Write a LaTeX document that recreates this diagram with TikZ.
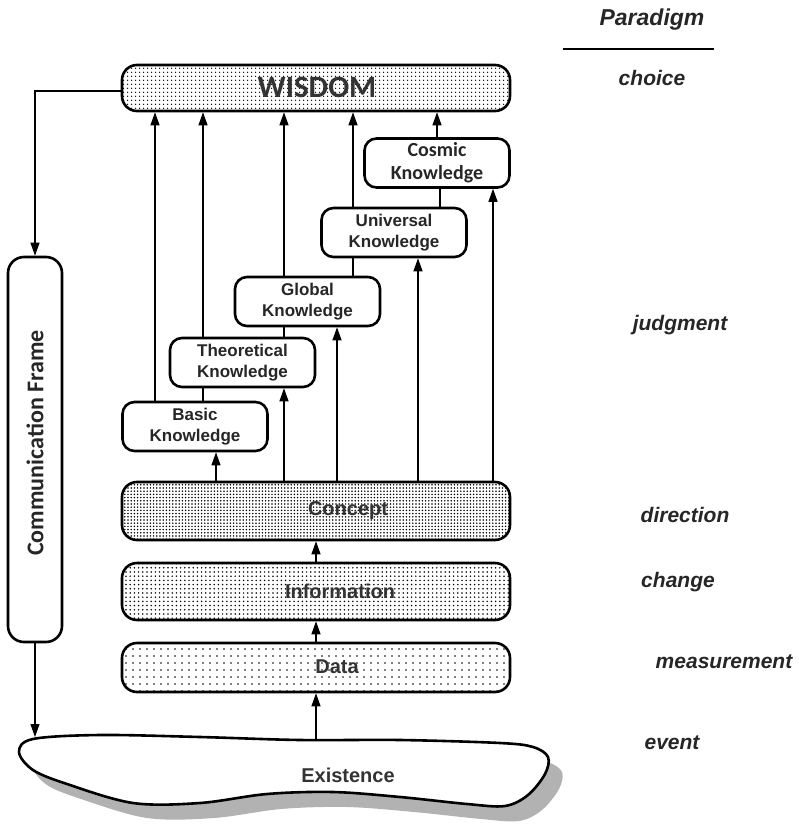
\documentclass[tikz,border=0pt]{standalone}
\usepackage{fontspec}
\setmainfont{Liberation Sans}
\newfontfamily\calib{Carlito}
\usetikzlibrary{arrows.meta,patterns.meta,calc}
\begin{document}
\begin{tikzpicture}[x=1pt,y=-1pt,
 box/.style={draw, line width=2.6pt, rounded corners=12pt, inner sep=0pt},
 kbox/.style={box, fill=white, minimum width=145pt, minimum height=49pt, align=center, font=\bfseries\fontsize{17}{21}\selectfont, text=black!85},
 wbox/.style={box, minimum width=388pt, rounded corners=15pt},
 conn/.style={line width=1.2pt, -{Triangle[length=13pt,width=9pt]}},
 plainline/.style={line width=1.2pt},
 para/.style={font=\bfseries\itshape\fontsize{21}{25}\selectfont, text=black!85},
 lbl/.style={font=\bfseries\fontsize{20}{24}\selectfont, text=black!80}
]
\useasboundingbox (0,0) rectangle (799,824);

% Existence blob with shadow
\path[fill=black!30, shift={(14,15)}] plot[smooth cycle, tension=0.55] coordinates {
 (19,752) (33,739) (100,735) (200,737) (300,740) (400,740) (500,743) (533,747)
 (548,757) (545,774) (528,795)
 (505,806) (467,804) (400,797) (333,792) (267,794) (200,803) (133,803) (67,784) (33,770)};
\draw[line width=2.6pt, fill=white] plot[smooth cycle, tension=0.55] coordinates {
 (19,752) (33,739) (100,735) (200,737) (300,740) (400,740) (500,743) (533,747)
 (548,757) (545,774) (528,795)
 (505,806) (467,804) (400,797) (333,792) (267,794) (200,803) (133,803) (67,784) (33,770)};
\node[lbl] (exist) at (348,775) {Existence};
\coordinate (extop) at (316,740);
\coordinate (exleft) at (35,737);

% wide boxes
\node[wbox, minimum height=46pt, pattern={Dots[distance=4pt,radius=0.9pt]}] (wisdom) at (316,88) {};
\node[font=\calib\bfseries\fontsize{31}{34}\selectfont, text=black!80] (wisdomtxt) at (317,87) {WISDOM};
\node[wbox, minimum height=58pt, pattern={Dots[distance=3.2pt,radius=0.85pt]}] (concept) at (316,511) {};
\node[lbl] (concepttxt) at (348,511) {Concept};
\node[wbox, minimum height=57pt, pattern={Dots[distance=4.2pt,radius=0.85pt]}] (info) at (316,591.5) {};
\node[lbl] (infotxt) at (340,591) {Information};
\node[wbox, minimum height=49pt, pattern={Dots[distance=7pt,radius=0.9pt]}] (data) at (316,667.5) {};
\node[lbl] (datatxt) at (337,667) {Data};

% communication frame
\node[box, rounded corners=16pt, minimum width=54pt, minimum height=385pt] (comm) at (35,449.5) {};
\node[rotate=90, font=\calib\bfseries\fontsize{24}{28}\selectfont, text=black!85] (commtxt) at (35,443) {Communication Frame};

% knowledge boxes
\node[kbox] (basic) at (195,426.5) {Basic\\Knowledge};
\node[kbox] (theo) at (242.5,362.5) {Theoretical\\Knowledge};
\node[kbox] (global) at (307.5,301.5) {Global\\Knowledge};
\node[kbox] (univ) at (394,232.5) {Universal\\Knowledge};
\node[kbox, font=\calib\bfseries\fontsize{20}{23}\selectfont] (cosmic) at (437,163) {Cosmic\\Knowledge};

% connectors
\draw[conn] (basic.north -| 155,0) -- (wisdom.south -| 155,0);
\draw[plainline] (basic.north -| 203,0) -- (theo.south -| 203,0);
\draw[conn] (theo.north -| 203,0) -- (wisdom.south -| 203,0);
\draw[plainline] (theo.north -| 284,0) -- (global.south -| 284,0);
\draw[conn] (global.north -| 284,0) -- (wisdom.south -| 284,0);
\draw[plainline] (global.north -| 353,0) -- (univ.south -| 353,0);
\draw[conn] (univ.north -| 353,0) -- (wisdom.south -| 353,0);
\draw[plainline] (univ.north -| 440,0) -- (cosmic.south -| 440,0);
\draw[conn] (cosmic.north -| 437,0) -- (wisdom.south -| 437,0);

\draw[conn] (concept.north -| 216,0) -- (basic.south -| 216,0);
\draw[conn] (concept.north -| 284,0) -- (theo.south -| 284,0);
\draw[conn] (concept.north -| 337,0) -- (global.south -| 337,0);
\draw[conn] (concept.north -| 418,0) -- (univ.south -| 418,0);
\draw[conn] (concept.north -| 493,0) -- (cosmic.south -| 493,0);

\draw[conn] (info.north) -- (concept.south);
\draw[conn] (data.north) -- (info.south);
\draw[conn] (extop) -- (data.south);

\draw[conn] (wisdom.west |- 0,91) -| (comm.north);
\draw[conn] (comm.south) -- (exleft);

% paradigm column
\node[para, font=\bfseries\itshape\fontsize{23}{27}\selectfont] (paradigm) at (652,20) {Paradigm};
\draw[line width=2pt] (563,49) -- (714,49);
\node[para] (choice) at (652,78) {choice};
\node[para] (judgment) at (680,325) {judgment};
\node[para] (direction) at (685,515) {direction};
\node[para] (change) at (678,582) {change};
\node[para] (measurement) at (724,662) {measurement};
\node[para] (event) at (672,743) {event};
\end{tikzpicture}
\end{document}
